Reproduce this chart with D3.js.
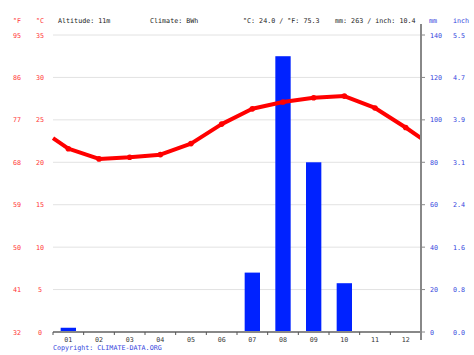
<!DOCTYPE html>
<html>
<head>
<meta charset="utf-8">
<script src="https://cdn.jsdelivr.net/npm/d3@7"></script>
<style>
  body { margin: 0; background: #fff; }
  text { font-family: "DejaVu Sans Mono", monospace; font-size: 6.7px; }
</style>
</head>
<body>
<div id="chart"></div>
<script>
var months = ['01','02','03','04','05','06','07','08','09','10','11','12'];
var tempC = [21.6, 20.4, 20.6, 20.9, 22.2, 24.5, 26.3, 27.1, 27.6, 27.8, 26.4, 24.1];
var precipMm = [2, 0, 0, 0, 0, 0, 28, 130, 80, 23, 0, 0];
var cTicks = [0, 5, 10, 15, 20, 25, 30, 35];
var fLabels = ['32', '41', '50', '59', '68', '77', '86', '95'];
var mmTicks = [0, 20, 40, 60, 80, 100, 120, 140];
var inchLabels = ['0.0', '0.8', '1.6', '2.4', '3.1', '3.9', '4.7', '5.5'];

var W = 474, H = 355;
var x0 = 53, x1 = 421, yTop = 35, yBot = 332;

var svg = d3.select('#chart').append('svg').attr('width', W).attr('height', H);

var x = d3.scaleBand().domain(months).range([x0, x1]);
var yC = d3.scaleLinear().domain([0, 35]).range([yBot, yTop]);
var yMm = d3.scaleLinear().domain([0, 140]).range([yBot, yTop]);

// grid
svg.append('g').selectAll('line').data(cTicks.slice(1)).enter().append('line')
  .attr('x1', x0).attr('x2', x1)
  .attr('y1', function (d) { return yC(d); }).attr('y2', function (d) { return yC(d); })
  .attr('stroke', '#e2e2e2').attr('stroke-width', 1);

// bars
svg.append('g').selectAll('rect').data(precipMm).enter().append('rect')
  .attr('x', function (d, i) { return x(months[i]) + x.bandwidth() * 0.25; })
  .attr('width', x.bandwidth() * 0.5)
  .attr('y', function (d) { return yMm(d); })
  .attr('height', function (d) { return yBot - yMm(d); })
  .attr('fill', '#0022ff');

// temperature line, wrapped to the edges
var edge = (tempC[0] + tempC[11]) / 2;
var pts = [[x0, yC(edge)]];
tempC.forEach(function (d, i) { pts.push([x(months[i]) + x.bandwidth() / 2, yC(d)]); });
pts.push([x1, yC(edge)]);
svg.append('path').datum(pts)
  .attr('d', d3.line())
  .attr('fill', 'none').attr('stroke', '#ff0000').attr('stroke-width', 4)
  .attr('stroke-linejoin', 'round');
svg.append('g').selectAll('circle').data(tempC).enter().append('circle')
  .attr('cx', function (d, i) { return x(months[i]) + x.bandwidth() / 2; })
  .attr('cy', function (d) { return yC(d); })
  .attr('r', 2.8).attr('fill', '#ff0000');

// bottom axis
var xAxis = svg.append('g').attr('transform', 'translate(0,' + yBot + ')');
xAxis.append('line').attr('x1', x0).attr('x2', x1).attr('stroke', '#888').attr('stroke-width', 2);
xAxis.selectAll('.tk').data(d3.range(13)).enter().append('line')
  .attr('x1', function (d) { return x0 + d * x.bandwidth(); })
  .attr('x2', function (d) { return x0 + d * x.bandwidth(); })
  .attr('y1', 0).attr('y2', 3).attr('stroke', '#555');
xAxis.selectAll('text').data(months).enter().append('text')
  .attr('x', function (d) { return x(d) + x.bandwidth() / 2; })
  .attr('y', 10).attr('text-anchor', 'middle').attr('fill', '#333').text(function (d) { return d; });

// right axis
svg.append('line').attr('x1', x1).attr('x2', x1).attr('y1', 24).attr('y2', 340)
  .attr('stroke', '#888').attr('stroke-width', 2);
svg.append('g').selectAll('line').data(mmTicks).enter().append('line')
  .attr('x1', x1).attr('x2', x1 + 4)
  .attr('y1', function (d) { return yMm(d); }).attr('y2', function (d) { return yMm(d); })
  .attr('stroke', '#888');
svg.append('g').selectAll('text').data(mmTicks).enter().append('text')
  .attr('x', 430).attr('y', function (d) { return yMm(d) + 2.5; })
  .attr('fill', '#3344dd').text(function (d) { return d; });
svg.append('g').selectAll('text').data(inchLabels).enter().append('text')
  .attr('x', 453).attr('y', function (d, i) { return yMm(mmTicks[i]) + 2.5; })
  .attr('fill', '#3344dd').text(function (d) { return d; });

// left labels
svg.append('g').selectAll('text').data(cTicks).enter().append('text')
  .attr('x', 40).attr('y', function (d) { return yC(d) + 2.5; }).attr('text-anchor', 'middle')
  .attr('fill', '#ff3333').text(function (d) { return d; });
svg.append('g').selectAll('text').data(fLabels).enter().append('text')
  .attr('x', 17).attr('y', function (d, i) { return yC(cTicks[i]) + 2.5; }).attr('text-anchor', 'middle')
  .attr('fill', '#ff3333').text(function (d) { return d; });

// header
svg.append('text').attr('x', 17).attr('y', 23).attr('text-anchor', 'middle').attr('fill', '#ff3333').text('°F');
svg.append('text').attr('x', 40).attr('y', 23).attr('text-anchor', 'middle').attr('fill', '#ff3333').text('°C');
svg.append('text').attr('x', 429).attr('y', 23).attr('fill', '#3344dd').text('mm');
svg.append('text').attr('x', 453).attr('y', 23).attr('fill', '#3344dd').text('inch');
svg.append('text').attr('x', 58).attr('y', 23).attr('fill', '#222').text('Altitude: 11m');
svg.append('text').attr('x', 150).attr('y', 23).attr('fill', '#222').text('Climate: BWh');
svg.append('text').attr('x', 243).attr('y', 23).attr('fill', '#222').text('°C: 24.0 / °F: 75.3');
svg.append('text').attr('x', 335).attr('y', 23).attr('fill', '#222').text('mm: 263 / inch: 10.4');
svg.append('text').attr('x', 53).attr('y', 350).attr('fill', '#3344dd').text('Copyright: CLIMATE-DATA.ORG');
</script>
</body>
</html>
